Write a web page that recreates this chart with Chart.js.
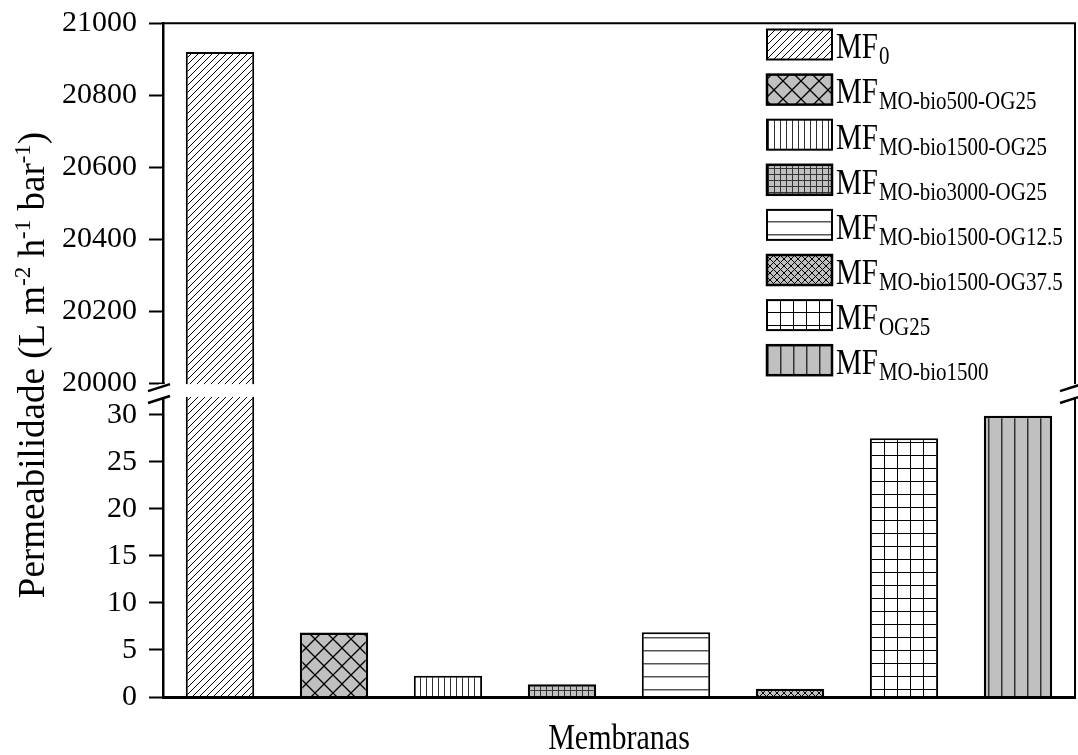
<!DOCTYPE html>
<html>
<head>
<meta charset="utf-8">
<script src="https://cdn.jsdelivr.net/npm/chart.js@4/dist/chart.umd.min.js"></script>
<style>
  html, body { margin: 0; padding: 0; background: #fff; }
  #wrap { width: 1078px; height: 755px; position: relative; }
</style>
</head>
<body>
<div id="wrap"><canvas id="grafico"></canvas></div>
<script>
// Membranas (subscrito do rótulo "MF")
const subscritos = ['0', 'MO-bio500-OG25', 'MO-bio1500-OG25', 'MO-bio3000-OG25',
                    'MO-bio1500-OG12.5', 'MO-bio1500-OG37.5', 'OG25', 'MO-bio1500'];
const membranas = subscritos.map(s => 'MF' + s);
// Permeabilidade (L m-2 h-1 bar-1)
const permeabilidade = [20920, 6.85, 2.27, 1.35, 6.88, 0.88, 27.5, 29.9];
// Marcas dos dois trechos do eixo interrompido
const ticksSuperior = [20000, 20200, 20400, 20600, 20800, 21000];
const ticksInferior = [0, 5, 10, 15, 20, 25, 30];
// Limites dos trechos
const limiteSuperior = [20000, 21000];
const limiteInferior = [0, 33.37];
const inicioQuebra = 31.9;
const tituloX = 'Membranas';

const CINZA = '#c0c0c0';
const FONTE = "'Liberation Serif', 'Times New Roman', serif";

// Texturas de preenchimento
function textura(tipo) {
  const cfg = {
    diag:    { s: 7,  fundo: '#fff' },
    xgrande: { s: 18, fundo: CINZA },
    vert6:   { s: 6,  fundo: '#fff' },
    grade6:  { s: 6,  fundo: CINZA },
    horiz13: { s: 13, fundo: '#fff' },
    xfino:   { s: 7,  fundo: CINZA },
    grade13: { s: 13, fundo: '#fff' },
    vert13:  { s: 13, fundo: CINZA }
  }[tipo];
  const s = cfg.s;
  const c = document.createElement('canvas');
  c.width = s; c.height = s;
  const g = c.getContext('2d');
  g.fillStyle = cfg.fundo;
  g.fillRect(0, 0, s, s);
  g.strokeStyle = '#000';
  g.lineWidth = 1;
  const linha = (x1, y1, x2, y2) => { g.beginPath(); g.moveTo(x1, y1); g.lineTo(x2, y2); g.stroke(); };
  const barra = () => { linha(-1, s + 1, s + 1, -1); linha(-1, 1, 1, -1); linha(s - 1, s + 1, s + 1, s - 1); };
  const contra = () => { linha(-1, -1, s + 1, s + 1); linha(s - 1, -1, s + 1, 1); linha(-1, s - 1, 1, s + 1); };
  if (tipo === 'diag') { barra(); }
  if (tipo === 'xgrande' || tipo === 'xfino') { g.lineWidth = tipo === 'xgrande' ? 1.3 : 1; barra(); contra(); }
  if (tipo === 'vert6') { g.strokeStyle = '#333'; linha(0.5, 0, 0.5, s); }
  if (tipo === 'grade6') { g.strokeStyle = '#333'; linha(0.5, 0, 0.5, s); linha(0, 0.5, s, 0.5); }
  if (tipo === 'horiz13') { g.strokeStyle = '#555'; g.lineWidth = 1.5; linha(0, 0.75, s, 0.75); }
  if (tipo === 'grade13') { linha(0.5, 0, 0.5, s); linha(0, 0.5, s, 0.5); }
  if (tipo === 'vert13') { g.strokeStyle = '#333'; g.lineWidth = 1.5; linha(0.75, 0, 0.75, s); }
  return g.createPattern(c, 'repeat');
}

const tiposTextura = ['diag', 'xgrande', 'vert6', 'grade6', 'horiz13', 'xfino', 'grade13', 'vert13'];
const texturas = tiposTextura.map(textura);
const bordas = [2, 2.5, 2, 2.5, 2, 2.5, 2, 2.5];

// Cada dataset só aparece dentro do seu trecho do eixo
const recortePorEixo = {
  id: 'recortePorEixo',
  beforeDatasetDraw(chart, args) {
    const sc = chart.scales[args.meta.yAxisID];
    const a = chart.chartArea;
    const ctx = chart.ctx;
    ctx.save();
    ctx.beginPath();
    ctx.rect(a.left - 5, sc.top, a.right - a.left + 10, sc.bottom - sc.top);
    ctx.clip();
  },
  afterDatasetDraw(chart) { chart.ctx.restore(); }
};

// Texto com escala vertical
function textoEsticado(ctx, t, x, y, fator) {
  ctx.save();
  ctx.translate(x, y);
  ctx.scale(1, fator);
  ctx.fillText(t, 0, 0);
  ctx.restore();
}

// Moldura, quebra do eixo, títulos dos eixos e legenda
const decoracao = {
  id: 'decoracao',
  afterDraw(chart) {
    const ctx = chart.ctx;
    const a = chart.chartArea;
    const ySup = chart.scales.ySup;
    const yInf = chart.scales.yInf;
    ctx.save();
    // moldura superior e direita
    ctx.strokeStyle = '#000';
    ctx.lineWidth = 2;
    ctx.beginPath();
    ctx.moveTo(a.left, a.top);
    ctx.lineTo(a.right, a.top);
    ctx.lineTo(a.right, a.bottom);
    ctx.stroke();

    // faixa da quebra
    const yQuebraTopo = Math.min(ySup.bottom, yInf.top) + 1;
    const yQuebraBase = yInf.getPixelForValue(inicioQuebra);
    ctx.fillStyle = '#fff';
    ctx.fillRect(a.left - 4, yQuebraTopo, a.right - a.left + 10, yQuebraBase - yQuebraTopo);

    // marcas de quebra
    ctx.lineWidth = 2.5;
    ctx.strokeStyle = '#000';
    const marca = (x, y) => {
      ctx.beginPath();
      ctx.moveTo(x - 15, y + 5);
      ctx.lineTo(x + 7, y - 2);
      ctx.stroke();
    };
    [a.left, a.right].forEach(x => {
      marca(x, yQuebraTopo + 2);
      marca(x, yQuebraBase + 1);
    });

    ctx.fillStyle = '#000';
    ctx.textBaseline = 'alphabetic';

    // título do eixo x
    ctx.font = '30px ' + FONTE;
    ctx.textAlign = 'center';
    textoEsticado(ctx, tituloX, (a.left + a.right) / 2, 749, 1.2);
    ctx.textAlign = 'left';

    // título do eixo y com sobrescritos
    const partes = [['Permeabilidade (L m', 0], ['-2', 1], [' h', 0], ['-1', 1],
                    [' bar', 0], ['-1', 1], [')', 0]];
    const fMain = '37px ' + FONTE, fSup = '23px ' + FONTE;
    let total = 0;
    partes.forEach(([t, sup]) => { ctx.font = sup ? fSup : fMain; total += ctx.measureText(t).width; });
    ctx.translate(44, 365);
    ctx.rotate(-Math.PI / 2);
    let x = -total / 2;
    partes.forEach(([t, sup]) => {
      ctx.font = sup ? fSup : fMain;
      ctx.fillText(t, x, sup ? -14 : 0);
      x += ctx.measureText(t).width;
    });
    ctx.setTransform(1, 0, 0, 1, 0, 0);

    // legenda
    subscritos.forEach((sub, i) => {
      const topo = 29.5 + i * 45.1;
      const xs = 767, w = 65, h = 30;
      ctx.fillStyle = texturas[i];
      ctx.fillRect(xs, topo, w, h);
      ctx.strokeStyle = '#000';
      ctx.lineWidth = bordas[i];
      ctx.strokeRect(xs, topo, w, h);
      ctx.fillStyle = '#000';
      ctx.font = '29px ' + FONTE;
      const base = topo + 28.8;
      textoEsticado(ctx, 'MF', 836, base, 1.2);
      const wMF = ctx.measureText('MF').width;
      ctx.font = '21px ' + FONTE;
      textoEsticado(ctx, sub, 836 + wMF + 1, base + 6, 1.2);
    });
    ctx.restore();
  }
};

const comum = {
  backgroundColor: texturas,
  borderColor: '#000',
  borderWidth: bordas,
  borderSkipped: 'start',
  grouped: false,
  barPercentage: 0.6,
  categoryPercentage: 1
};

const eixoY = (ticks, lim, peso) => ({
  type: 'linear',
  position: 'left',
  stack: 'permeabilidade',
  stackWeight: peso,
  min: lim[0],
  max: lim[1],
  afterBuildTicks: s => { s.ticks = ticks.map(v => ({ value: v })); },
  afterFit: s => { s.width = 163; },
  grid: { display: true, drawOnChartArea: false, drawTicks: true, tickLength: 14,
          tickWidth: 2, tickColor: '#000', color: '#000' },
  border: { display: true, color: '#000', width: 2.5 },
  ticks: { color: '#000', padding: 12, includeBounds: false,
           callback: v => String(v),
           font: { family: FONTE, size: 30, lineHeight: 0.75 } }
});

new Chart(document.getElementById('grafico'), {
  type: 'bar',
  data: {
    labels: membranas,
    datasets: [
      Object.assign({ label: 'trecho inferior', data: permeabilidade, yAxisID: 'yInf' }, comum),
      Object.assign({ label: 'trecho superior',
                      data: permeabilidade.map(v => v >= limiteSuperior[0] ? v : null),
                      yAxisID: 'ySup' }, comum)
    ]
  },
  options: {
    responsive: true,
    maintainAspectRatio: false,
    animation: false,
    layout: { padding: { top: 23, right: 3, left: 0, bottom: 0 } },
    plugins: { legend: { display: false }, tooltip: { enabled: false } },
    scales: {
      x: {
        type: 'category',
        afterFit: s => { s.height = 58; },
        grid: { display: false },
        border: { display: true, color: '#000', width: 3, z: 1 },
        ticks: { display: false },
        title: { display: false }
      },
      yInf: eixoY(ticksInferior, limiteInferior, 314),
      ySup: eixoY(ticksSuperior, limiteSuperior, 360)
    }
  },
  plugins: [recortePorEixo, decoracao]
});
</script>
</body>
</html>
